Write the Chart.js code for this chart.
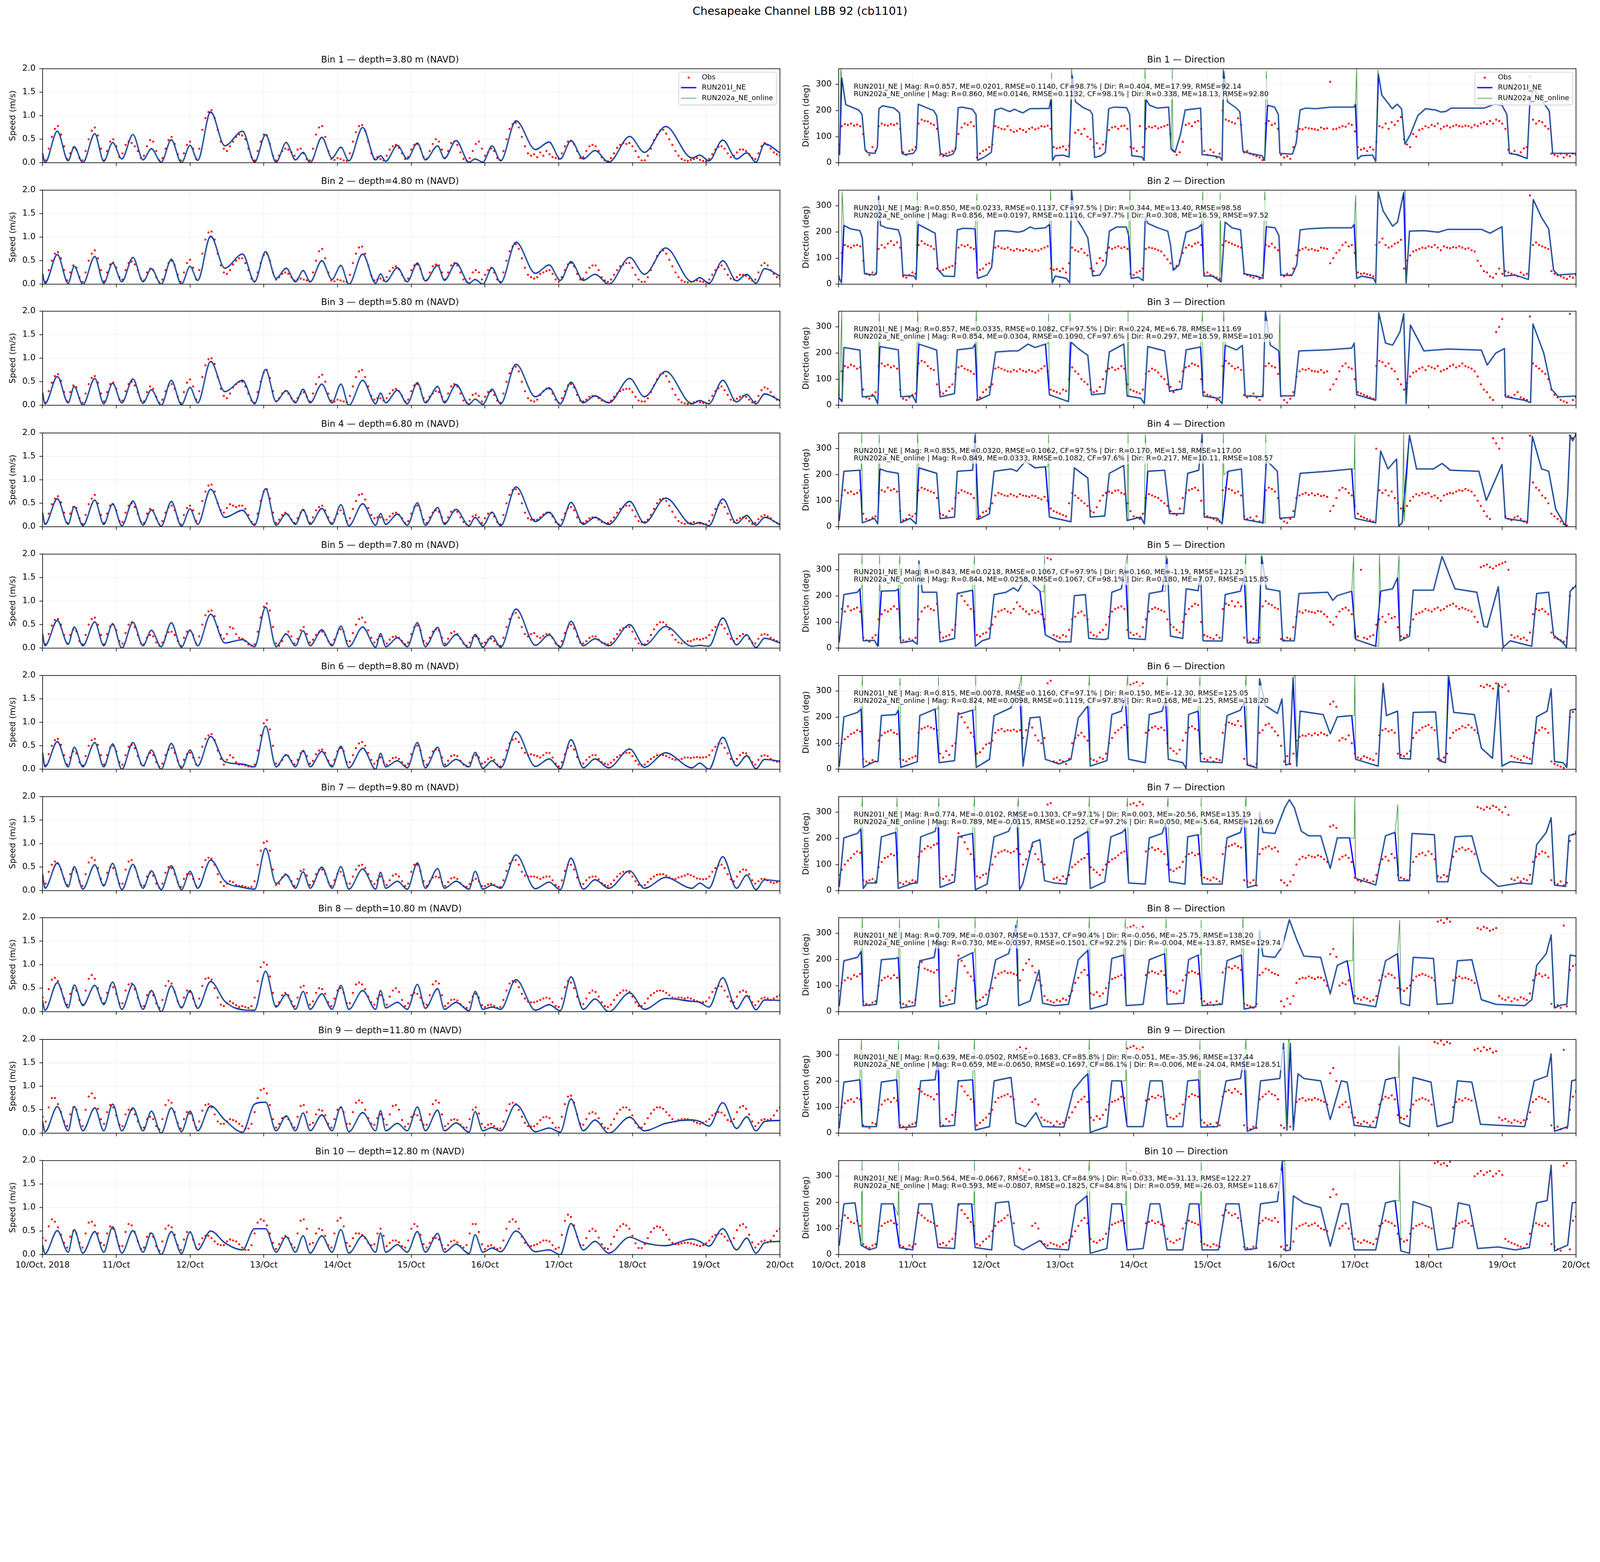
<!DOCTYPE html>
<html>
<head>
<meta charset="utf-8">
<script src="https://cdn.jsdelivr.net/npm/chart.js@4.4.1/dist/chart.umd.min.js"></script>
<style>
  html, body { margin: 0; padding: 0; background: #fff; overflow: hidden; }
  #fig { position: relative; width: 5000px; height: 4000px; background: #fff; overflow: hidden; font-family: "DejaVu Sans", sans-serif; }
  #sup { position: absolute; left: 0; top: 13px; width: 5000px; text-align: center; font-size: 35px; line-height: 42px; color: #000; white-space: nowrap; }
  canvas { position: absolute; }
</style>
</head>
<body>
<div id="fig"><div id="sup">Chesapeake Channel LBB 92 (cb1101)</div></div>
<script>
// ---- axes / labels ----
const DATE_LABELS = ['10/Oct, 2018', '11/Oct', '12/Oct', '13/Oct', '14/Oct', '15/Oct', '16/Oct', '17/Oct', '18/Oct', '19/Oct', '20/Oct'];
const DAY_TICKS = [0, 24, 48, 72, 96, 120, 144, 168, 192, 216, 240];   // hours since 10/Oct 00:00
const SPEED_TICKS = [0, 0.5, 1.0, 1.5, 2.0];
const DIR_TICKS = [0, 100, 200, 300];
const DEPTHS = [3.8, 4.8, 5.8, 6.8, 7.8, 8.8, 9.8, 10.8, 11.8, 12.8];
const LEGEND_LABELS = ['Obs', 'RUN201I_NE', 'RUN202a_NE_online'];

const STATS_RUN201 = [
  'RUN201I_NE | Mag: R=0.857, ME=0.0201, RMSE=0.1140, CF=98.7% | Dir: R=0.404, ME=17.99, RMSE=92.14',
  'RUN201I_NE | Mag: R=0.850, ME=0.0233, RMSE=0.1137, CF=97.5% | Dir: R=0.344, ME=13.40, RMSE=98.58',
  'RUN201I_NE | Mag: R=0.857, ME=0.0335, RMSE=0.1082, CF=97.5% | Dir: R=0.224, ME=6.78, RMSE=111.69',
  'RUN201I_NE | Mag: R=0.855, ME=0.0320, RMSE=0.1062, CF=97.5% | Dir: R=0.170, ME=1.58, RMSE=117.00',
  'RUN201I_NE | Mag: R=0.843, ME=0.0218, RMSE=0.1067, CF=97.9% | Dir: R=0.160, ME=-1.19, RMSE=121.25',
  'RUN201I_NE | Mag: R=0.815, ME=0.0078, RMSE=0.1160, CF=97.1% | Dir: R=0.150, ME=-12.30, RMSE=125.05',
  'RUN201I_NE | Mag: R=0.774, ME=-0.0102, RMSE=0.1303, CF=97.1% | Dir: R=0.003, ME=-20.56, RMSE=135.19',
  'RUN201I_NE | Mag: R=0.709, ME=-0.0307, RMSE=0.1537, CF=90.4% | Dir: R=-0.056, ME=-25.75, RMSE=138.20',
  'RUN201I_NE | Mag: R=0.639, ME=-0.0502, RMSE=0.1683, CF=85.8% | Dir: R=-0.051, ME=-35.96, RMSE=137.44',
  'RUN201I_NE | Mag: R=0.564, ME=-0.0667, RMSE=0.1813, CF=84.9% | Dir: R=0.033, ME=-31.13, RMSE=122.27'
];
const STATS_RUN202 = [
  'RUN202a_NE_online | Mag: R=0.860, ME=0.0146, RMSE=0.1132, CF=98.1% | Dir: R=0.338, ME=18.13, RMSE=92.80',
  'RUN202a_NE_online | Mag: R=0.856, ME=0.0197, RMSE=0.1116, CF=97.7% | Dir: R=0.308, ME=16.59, RMSE=97.52',
  'RUN202a_NE_online | Mag: R=0.854, ME=0.0304, RMSE=0.1090, CF=97.6% | Dir: R=0.297, ME=18.59, RMSE=101.90',
  'RUN202a_NE_online | Mag: R=0.849, ME=0.0333, RMSE=0.1082, CF=97.6% | Dir: R=0.217, ME=10.11, RMSE=108.57',
  'RUN202a_NE_online | Mag: R=0.844, ME=0.0258, RMSE=0.1067, CF=98.1% | Dir: R=0.180, ME=7.07, RMSE=115.85',
  'RUN202a_NE_online | Mag: R=0.824, ME=0.0098, RMSE=0.1119, CF=97.8% | Dir: R=0.168, ME=1.25, RMSE=118.20',
  'RUN202a_NE_online | Mag: R=0.789, ME=-0.0115, RMSE=0.1252, CF=97.2% | Dir: R=0.050, ME=-5.64, RMSE=126.69',
  'RUN202a_NE_online | Mag: R=0.730, ME=-0.0397, RMSE=0.1501, CF=92.2% | Dir: R=-0.004, ME=-13.87, RMSE=129.74',
  'RUN202a_NE_online | Mag: R=0.659, ME=-0.0650, RMSE=0.1697, CF=86.1% | Dir: R=-0.006, ME=-24.04, RMSE=128.51',
  'RUN202a_NE_online | Mag: R=0.593, ME=-0.0807, RMSE=0.1825, CF=84.8% | Dir: R=0.059, ME=-26.03, RMSE=118.67'
];

// ---- model speed: values (m/s) at the slack / peak times of the tide (hours) ----
const SPEED_T = [0,0.8,4.8,8.3,10.3,13.1,17.0,19.9,22.8,25.8,29.4,32.7,35.4,38.6,41.9,45.2,48.0,50.5,54.7,59.3,
  65.1,69.0,72.6,76.0,79.3,82.3,84.8,87.1,90.9,94.2,97.1,99.7,104.2,108.4,110.0,111.7,115.5,118.7,122.0,124.6,
  128.6,130.8,134.6,138.8,140.8,143.3,146.3,149.1,154.1,160.4,164.9,168.5,172.0,176.0,179.8,184.3,191.1,195.9,202.8,211.4,
  213.9,216.9,221.4,225.9,229.2,232.2,235.0,240];

const SPD201_1 = [0.20,0.00,0.67,0.04,0.34,0.00,0.62,0.03,0.43,0.08,0.60,0.06,0.30,0.01,0.49,0.00,0.37,0.05,1.08,0.36,0.67,0.01,0.60,0.01,0.43,0.06,0.22,0.00,0.54,0.10,0.33,0.04,0.75,0.06,0.15,0.03,0.37,0.08,0.42,0.06,0.36,0.09,0.47,0.01,0.08,0.01,0.36,0.04,0.89,0.28,0.44,0.08,0.47,0.08,0.26,0.01,0.56,0.22,0.77,0.10,0.16,0.04,0.48,0.08,0.21,0.01,0.40,0.21];
const SPD201_2 = [0.22,0.02,0.63,0.02,0.38,0.00,0.59,0.02,0.45,0.05,0.57,0.05,0.33,0.00,0.53,0.00,0.38,0.08,1.02,0.34,0.64,0.05,0.69,0.12,0.34,0.05,0.29,0.05,0.50,0.10,0.40,0.00,0.64,0.02,0.22,0.05,0.35,0.05,0.45,0.07,0.40,0.08,0.45,0.02,0.10,0.00,0.35,0.03,0.89,0.23,0.41,0.08,0.48,0.08,0.21,0.00,0.57,0.21,0.77,0.05,0.14,0.02,0.50,0.07,0.21,0.02,0.33,0.17];
const SPD201_3 = [0.27,0.03,0.61,0.05,0.40,0.00,0.57,0.03,0.47,0.05,0.56,0.04,0.33,0.00,0.53,0.01,0.38,0.05,0.93,0.29,0.53,0.03,0.76,0.08,0.31,0.05,0.34,0.05,0.45,0.05,0.45,0.00,0.53,0.03,0.26,0.05,0.32,0.03,0.48,0.05,0.40,0.05,0.44,0.02,0.13,0.02,0.34,0.03,0.87,0.18,0.37,0.03,0.49,0.05,0.20,0.05,0.57,0.18,0.72,0.03,0.10,0.03,0.53,0.07,0.23,0.03,0.24,0.10];
const SPD201_4 = [0.30,0.05,0.60,0.05,0.43,0.02,0.57,0.05,0.49,0.02,0.55,0.03,0.36,0.01,0.54,0.01,0.38,0.05,0.80,0.20,0.35,0.03,0.81,0.03,0.28,0.05,0.37,0.05,0.39,0.05,0.47,0.02,0.49,0.03,0.28,0.05,0.27,0.03,0.51,0.03,0.41,0.05,0.37,0.02,0.20,0.02,0.31,0.02,0.85,0.11,0.31,0.02,0.52,0.05,0.20,0.05,0.54,0.08,0.61,0.05,0.09,0.02,0.59,0.07,0.24,0.03,0.20,0.04];
const SPD201_5 = [0.30,0.05,0.59,0.08,0.45,0.05,0.56,0.05,0.52,0.00,0.55,0.05,0.38,0.03,0.54,0.02,0.38,0.05,0.72,0.11,0.18,0.03,0.87,0.03,0.30,0.05,0.37,0.05,0.39,0.05,0.47,0.03,0.45,0.02,0.31,0.03,0.22,0.03,0.54,0.03,0.44,0.05,0.29,0.00,0.29,0.02,0.26,0.02,0.83,0.06,0.28,0.02,0.57,0.05,0.20,0.05,0.50,0.06,0.46,0.04,0.06,0.04,0.64,0.07,0.28,0.01,0.21,0.11];
const SPD201_6 = [0.35,0.05,0.59,0.05,0.47,0.05,0.57,0.05,0.54,0.00,0.57,0.07,0.41,0.00,0.55,0.02,0.41,0.07,0.70,0.16,0.11,0.05,0.92,0.05,0.31,0.05,0.40,0.05,0.38,0.05,0.49,0.03,0.45,0.00,0.34,0.05,0.18,0.03,0.57,0.03,0.47,0.05,0.21,0.05,0.36,0.02,0.18,0.03,0.80,0.06,0.22,0.01,0.63,0.03,0.22,0.03,0.43,0.04,0.35,0.03,0.13,0.00,0.68,0.07,0.29,0.01,0.21,0.17];
const SPD201_7 = [0.35,0.05,0.59,0.08,0.51,0.03,0.55,0.10,0.58,0.02,0.56,0.05,0.42,0.02,0.53,0.02,0.41,0.05,0.65,0.20,0.07,0.03,0.90,0.15,0.34,0.05,0.40,0.05,0.50,0.05,0.51,0.03,0.46,0.03,0.39,0.05,0.20,0.03,0.59,0.05,0.47,0.05,0.20,0.03,0.41,0.03,0.12,0.05,0.76,0.04,0.18,0.02,0.69,0.03,0.23,0.05,0.42,0.05,0.28,0.05,0.16,0.05,0.72,0.05,0.33,0.02,0.23,0.20];
const SPD201_8 = [0.23,0.03,0.62,0.08,0.57,0.13,0.56,0.15,0.63,0.05,0.58,0.05,0.45,0.00,0.55,0.08,0.45,0.07,0.64,0.22,0.04,0.03,0.86,0.10,0.37,0.05,0.43,0.05,0.38,0.05,0.56,0.05,0.45,0.05,0.45,0.08,0.20,0.05,0.58,0.07,0.49,0.05,0.20,0.02,0.43,0.05,0.10,0.05,0.68,0.03,0.15,0.02,0.74,0.05,0.27,0.00,0.40,0.05,0.28,0.22,0.20,0.10,0.72,0.06,0.34,0.04,0.25,0.24];
const SPD201_9 = [0.25,0.03,0.57,0.05,0.57,0.05,0.54,0.05,0.62,0.05,0.54,0.05,0.47,0.00,0.54,0.03,0.47,0.05,0.58,0.28,0.02,0.62,0.66,0.05,0.37,0.05,0.43,0.05,0.39,0.05,0.56,0.03,0.44,0.05,0.48,0.05,0.21,0.05,0.56,0.05,0.49,0.05,0.22,0.02,0.46,0.05,0.12,0.05,0.61,0.03,0.11,0.02,0.73,0.05,0.28,0.00,0.34,0.05,0.21,0.28,0.25,0.15,0.65,0.10,0.35,0.05,0.25,0.27];
const SPD201_10 = [0.20,0.02,0.51,0.05,0.53,0.03,0.49,0.05,0.59,0.03,0.51,0.05,0.46,0.00,0.49,0.02,0.48,0.10,0.50,0.25,0.10,0.55,0.55,0.05,0.38,0.05,0.40,0.03,0.40,0.05,0.53,0.03,0.40,0.05,0.46,0.05,0.21,0.05,0.49,0.05,0.45,0.05,0.22,0.02,0.42,0.05,0.14,0.06,0.50,0.06,0.10,0.00,0.66,0.10,0.28,0.03,0.37,0.25,0.19,0.33,0.28,0.18,0.55,0.10,0.35,0.03,0.25,0.28];

const SPD202_1 = [0.20,0.00,0.66,0.03,0.35,0.00,0.63,0.02,0.44,0.07,0.60,0.05,0.31,0.00,0.50,0.00,0.38,0.04,1.06,0.35,0.66,0.00,0.61,0.00,0.44,0.05,0.23,0.00,0.55,0.09,0.34,0.03,0.74,0.05,0.14,0.02,0.38,0.07,0.43,0.05,0.37,0.08,0.46,0.00,0.09,0.00,0.37,0.03,0.88,0.27,0.45,0.07,0.48,0.07,0.27,0.00,0.57,0.21,0.76,0.09,0.15,0.03,0.47,0.07,0.20,0.00,0.39,0.20];
const SPD202_2 = [0.22,0.00,0.62,0.01,0.39,0.00,0.60,0.01,0.46,0.04,0.58,0.04,0.34,0.00,0.54,0.00,0.39,0.07,1.00,0.33,0.63,0.04,0.68,0.11,0.35,0.04,0.30,0.04,0.51,0.09,0.41,0.00,0.63,0.01,0.23,0.04,0.36,0.04,0.46,0.06,0.41,0.07,0.46,0.01,0.11,0.00,0.36,0.02,0.88,0.22,0.42,0.07,0.49,0.07,0.22,0.00,0.58,0.20,0.76,0.04,0.15,0.01,0.51,0.06,0.22,0.01,0.34,0.16];
const SPD202_3 = [0.27,0.02,0.60,0.04,0.41,0.00,0.58,0.02,0.48,0.04,0.57,0.03,0.34,0.00,0.54,0.00,0.39,0.04,0.92,0.28,0.54,0.02,0.75,0.07,0.32,0.04,0.35,0.04,0.46,0.04,0.46,0.00,0.54,0.02,0.27,0.04,0.33,0.02,0.49,0.04,0.41,0.04,0.45,0.01,0.14,0.01,0.35,0.02,0.86,0.17,0.38,0.02,0.50,0.04,0.21,0.04,0.58,0.17,0.71,0.02,0.11,0.02,0.54,0.06,0.24,0.02,0.25,0.09];
const SPD202_4 = [0.30,0.04,0.61,0.04,0.44,0.01,0.58,0.04,0.50,0.01,0.56,0.02,0.37,0.00,0.55,0.00,0.39,0.04,0.79,0.19,0.36,0.02,0.80,0.02,0.29,0.04,0.38,0.04,0.40,0.04,0.48,0.01,0.50,0.02,0.29,0.04,0.28,0.02,0.52,0.02,0.42,0.04,0.38,0.01,0.21,0.01,0.32,0.01,0.84,0.10,0.32,0.01,0.53,0.04,0.21,0.04,0.55,0.07,0.60,0.04,0.10,0.01,0.58,0.06,0.25,0.02,0.21,0.03];
const SPD202_5 = [0.30,0.04,0.60,0.07,0.46,0.04,0.57,0.04,0.53,0.00,0.56,0.04,0.39,0.02,0.55,0.01,0.39,0.04,0.71,0.10,0.19,0.02,0.86,0.02,0.31,0.04,0.38,0.04,0.40,0.04,0.48,0.02,0.46,0.01,0.32,0.02,0.23,0.02,0.55,0.02,0.45,0.04,0.30,0.00,0.30,0.01,0.27,0.01,0.82,0.05,0.29,0.01,0.58,0.04,0.21,0.04,0.51,0.05,0.47,0.03,0.07,0.03,0.63,0.06,0.29,0.00,0.22,0.10];
const SPD202_6 = [0.35,0.04,0.60,0.04,0.48,0.04,0.58,0.04,0.55,0.00,0.58,0.06,0.42,0.00,0.56,0.01,0.42,0.06,0.69,0.15,0.12,0.04,0.91,0.04,0.32,0.04,0.41,0.04,0.39,0.04,0.50,0.02,0.46,0.00,0.35,0.04,0.19,0.02,0.58,0.02,0.48,0.04,0.22,0.04,0.37,0.01,0.19,0.02,0.79,0.05,0.23,0.00,0.62,0.02,0.23,0.02,0.44,0.03,0.36,0.02,0.14,0.00,0.67,0.06,0.30,0.00,0.22,0.16];
const SPD202_7 = [0.35,0.04,0.60,0.07,0.52,0.02,0.56,0.09,0.59,0.01,0.57,0.04,0.43,0.01,0.54,0.01,0.42,0.04,0.64,0.19,0.08,0.02,0.89,0.14,0.35,0.04,0.41,0.04,0.51,0.04,0.52,0.02,0.47,0.02,0.40,0.04,0.21,0.02,0.60,0.04,0.48,0.04,0.21,0.02,0.42,0.02,0.13,0.04,0.75,0.03,0.19,0.01,0.68,0.02,0.24,0.04,0.43,0.04,0.29,0.04,0.17,0.04,0.71,0.04,0.34,0.01,0.24,0.19];
const SPD202_8 = [0.23,0.02,0.63,0.07,0.58,0.12,0.57,0.14,0.64,0.04,0.59,0.04,0.46,0.00,0.56,0.07,0.46,0.06,0.63,0.21,0.05,0.02,0.85,0.09,0.38,0.04,0.44,0.04,0.39,0.04,0.57,0.04,0.46,0.04,0.46,0.07,0.21,0.04,0.59,0.06,0.50,0.04,0.21,0.01,0.44,0.04,0.11,0.04,0.67,0.02,0.16,0.01,0.73,0.04,0.28,0.00,0.41,0.04,0.29,0.21,0.21,0.09,0.71,0.05,0.35,0.03,0.26,0.23];
const SPD202_9 = [0.25,0.02,0.58,0.04,0.58,0.04,0.55,0.04,0.63,0.04,0.55,0.04,0.48,0.00,0.55,0.02,0.48,0.04,0.57,0.27,0.02,0.61,0.65,0.04,0.38,0.04,0.44,0.04,0.40,0.04,0.57,0.02,0.45,0.04,0.49,0.04,0.22,0.04,0.57,0.04,0.50,0.04,0.23,0.01,0.47,0.04,0.13,0.04,0.60,0.02,0.12,0.01,0.72,0.04,0.29,0.00,0.35,0.04,0.22,0.27,0.26,0.14,0.64,0.09,0.36,0.04,0.26,0.26];
const SPD202_10 = [0.20,0.01,0.52,0.04,0.54,0.02,0.50,0.04,0.60,0.02,0.52,0.04,0.47,0.00,0.50,0.01,0.49,0.09,0.49,0.24,0.09,0.54,0.54,0.04,0.39,0.04,0.41,0.02,0.41,0.04,0.54,0.02,0.41,0.04,0.47,0.04,0.22,0.04,0.50,0.04,0.46,0.04,0.23,0.01,0.43,0.04,0.15,0.05,0.49,0.05,0.11,0.00,0.65,0.09,0.29,0.02,0.38,0.24,0.20,0.32,0.29,0.17,0.54,0.09,0.36,0.02,0.26,0.27];

// ---- model direction: [hour, deg, hour, deg, ...] for RUN201I_NE ----
const DIR201_1 = [0,40,0.3,31,1.0,325,2.3,222,6.5,202,7.6,185,8.6,49,9.5,38,11.8,36,12.6,60,13.1,207,14.3,218,18.1,209,19.8,191,20.6,36,21.4,31,24.3,36,25.3,53,25.9,224,28.1,213,30.9,200,31.9,180,33.1,36,35.2,25,37.2,33,38.1,53,38.9,211,40.2,213,43.5,205,44.7,185,45.2,9,47.2,20,49.7,40,50.9,202,53.0,209,54.7,200,55.8,196,57.2,205,58.8,196,60.0,191,62.2,207,68.5,208,69.1,246,69.6,9,70.5,27,73.0,29,75.0,22,76.0,334,77.1,233,79.6,211,81.8,200,82.6,185,83.3,20,85.4,27,86.8,40,87.9,207,89.6,213,93.7,211,94.7,185,95.4,27,98.7,22,99.4,9,100.0,242,101.2,220,103.7,209,107.4,213,108.2,53,109.5,40,111.2,106,112.8,202,117.8,209,118.3,31,120.3,29,124.0,22,124.8,9,125.3,350,126.6,233,129.5,209,130.6,194,131.6,44,133.6,36,137.8,27,138.6,9,139.6,220,141.9,213,143.1,185,143.6,36,147.7,33,148.9,75,150.2,202,151.9,209,155.2,207,160.2,213,167.7,213,168.2,224,168.9,14,170.2,27,173.8,29,174.8,5,175.7,338,176.8,259,180.2,207,181.8,224,183.2,207,184.3,71,186.0,106,188.5,180,191.0,207,194.3,202,196.0,194,197.6,196,199.3,209,210.1,209,213.4,224,215.9,220,217.5,185,218.3,36,220.8,31,224.1,16,225.0,237,226.2,281,229.2,233,231.3,198,232.4,36,240,36];
const DIR201_2 = [0,30,0.2,22,0.9,5,1.7,225,3.8,212,6.9,205,7.7,177,8.4,40,11.6,35,12.3,40,13.0,337,13.6,225,15.5,216,19.4,208,20.2,177,20.9,35,24.5,31,25.2,18,25.9,229,28.0,216,31.4,195,32.3,57,34.2,31,37.7,29,38.6,208,40.5,214,44.4,212,45.2,22,48.3,35,49.8,65,50.9,203,54.5,205,58.4,199,60.0,203,62.3,219,63.9,212,67.3,216,68.6,229,69.5,5,70.5,31,74.1,22,75.2,5,75.8,358,76.7,264,79.5,212,81.1,177,82.7,31,85.0,35,87.0,74,88.1,203,90.5,219,93.6,219,94.4,186,95.2,22,97.5,27,99.1,14,99.8,259,100.6,233,103.8,216,107.1,203,108.0,152,108.9,53,110.8,74,113.1,199,117.0,216,118.1,229,118.9,31,121.7,31,124.5,9,125.8,238,128.0,216,130.8,208,132.0,40,135.8,31,138.1,22,139.2,220,142.0,216,143.3,186,143.9,35,147.5,33,149.1,74,150.2,208,153.0,212,159.2,216,167.0,216,167.8,229,168.6,22,170.2,31,174.1,22,174.8,5,175.6,354,177.2,281,180.3,222,181.9,238,183.9,350,184.7,5,185.8,203,190.5,205,195.2,199,198.3,210,209.2,210,212.0,195,215.9,220,216.7,31,220.2,35,224.5,18,226.1,324,228.8,255,231.1,212,232.7,53,234.2,35,240,40];
const DIR201_3 = [0,30,0.2,27,1.1,14,1.7,221,6.9,211,7.7,32,11.6,36,12.7,6,13.4,225,19.4,212,20.2,32,24.1,36,25.2,10,26.1,234,29.5,221,31.9,211,33.0,32,37.7,45,38.6,212,43.6,219,44.4,234,45.2,19,49.1,40,51.1,204,56.1,208,58.4,208,61.6,234,63.9,221,67.3,234,68.6,40,70.2,33,74.8,14,75.6,242,78.0,217,81.1,191,82.3,40,86.6,45,88.1,204,92.8,234,93.9,36,98.3,27,99.5,6,100.6,225,106.1,208,107.7,53,111.6,62,113.1,212,117.8,223,118.6,36,123.3,27,124.8,6,125.8,230,129.5,212,131.4,229,132.3,36,138.1,33,138.9,359,140.5,230,143.3,208,143.9,36,148.3,36,149.8,208,159.2,212,167.0,219,167.8,238,168.6,40,174.8,19,175.8,354,178.0,238,180.3,230,182.7,281,183.9,350,184.7,6,186.1,307,190.5,208,198.3,215,209.2,211,211.1,154,213.9,200,216.7,217,217.0,32,223.3,19,225.2,10,226.0,311,229.5,200,232.0,62,234.2,32,240,35];
const DIR201_4 = [0,30,0.2,24,1.7,213,6.9,217,7.7,15,11.6,32,12.7,11,13.4,222,15.5,213,19.4,205,20.2,15,23.3,32,25.2,11,26.1,226,31.9,205,33.0,31,37.7,37,38.6,213,43.6,217,44.4,351,45.5,28,49.1,50,50.6,213,56.1,222,58.0,213,60.8,252,63.9,226,67.3,230,68.6,37,75.6,19,76.7,226,81.1,187,81.9,37,86.6,41,88.1,205,92.8,235,93.9,24,98.3,37,99.5,11,100.6,213,106.1,217,107.7,50,112.3,50,113.6,205,117.2,217,118.3,355,119.0,37,123.3,32,124.8,11,126.7,213,131.1,222,132.0,28,138.1,15,139.2,256,142.8,213,143.6,32,148.3,37,150.2,205,159.2,213,167.0,222,168.1,32,174.8,15,176.4,291,178.8,222,181.6,260,182.3,2,183.4,15,185.8,351,188.1,222,193.6,222,196.4,243,199.1,217,208.4,213,210.8,101,215.9,239,217.0,32,224.2,19,225.8,347,228.8,222,231.1,213,233.4,67,236.6,2,237.3,127,238.1,351,238.9,330,240,355];
const DIR201_5 = [0,30,0.2,24,1.7,205,6.1,214,6.9,227,8.0,28,11.6,30,12.7,7,13.9,218,18.6,220,19.4,227,20.2,20,24.1,28,25.6,15,26.1,334,27.2,214,31.9,214,33.0,24,37.7,37,38.6,209,43.6,222,44.5,7,46.7,28,49.1,37,50.6,205,54.5,214,56.9,231,58.4,218,60.8,270,65.5,218,67.3,50,71.7,24,75.6,24,76.7,201,80.3,205,81.4,37,86.6,33,87.7,37,88.9,214,92.0,227,93.3,313,94.4,37,99.8,33,101.1,209,105.3,218,106.9,343,108.0,46,112.0,37,113.1,227,117.0,220,117.8,291,118.6,28,124.8,27,125.8,205,130.8,218,132.0,278,133.0,20,136.6,20,137.7,351,139.2,227,143.6,218,144.5,28,148.3,28,149.8,209,159.2,214,160.8,183,162.3,201,167.0,218,168.3,33,174.8,7,176.4,218,180.3,227,181.9,270,182.7,28,185.8,46,187.0,222,193.6,222,196.4,351,200.6,227,207.7,214,210.0,84,211.1,80,214.7,235,216.3,3,218.6,28,225.6,7,227.2,209,231.1,214,232.7,50,235.8,20,236.9,3,238.1,218,240,239];
const DIR201_6 = [0,25,0.2,12,1.7,201,6.1,218,7.3,231,8.0,7,11.6,29,12.8,29,13.9,206,18.6,210,19.4,227,20.2,7,25.6,29,26.4,206,31.4,231,32.7,25,37.7,33,38.9,210,43.6,227,44.8,7,49.1,38,50.6,206,56.1,236,58.9,322,60.0,12,62.3,197,65.5,201,67.3,38,71.7,20,75.6,38,78.0,197,81.1,244,81.9,12,87.3,33,88.9,210,92.0,223,93.3,278,94.4,38,99.8,25,101.1,210,105.3,223,106.4,270,107.3,38,112.0,25,113.1,3,113.9,210,117.0,223,117.8,29,124.8,25,126.4,206,130.8,227,132.0,261,133.0,16,136.1,5,137.0,347,138.9,244,142.8,214,144.3,270,145.5,16,146.7,20,147.9,351,149.1,12,150.2,223,157.7,210,160.0,136,162.3,201,167.0,206,168.3,38,175.6,12,177.2,330,178.3,206,181.9,223,182.7,42,186.1,39,187.0,218,194.3,220,195.5,33,197.5,25,198.6,355,200.2,218,206.9,210,209.2,81,212.8,42,214.7,330,215.9,12,218.6,29,225.6,20,227.2,201,230.6,223,231.9,309,233.0,29,235.8,25,237.0,7,238.1,227,240,231];
const DIR201_7 = [0,25,0.2,16,1.7,202,6.1,219,7.2,236,8.0,8,9.2,29,12.3,29,13.9,206,18.6,223,19.4,8,20.2,12,24.1,28,25.6,29,26.7,206,31.4,227,32.3,270,33.0,12,37.7,34,38.9,206,43.6,219,44.5,3,48.3,25,50.6,206,55.3,227,58.0,301,58.9,3,60.0,29,63.1,184,65.5,195,67.0,38,70.2,29,74.1,25,76.7,197,81.1,227,81.9,8,86.6,34,88.6,206,92.3,223,93.3,236,94.4,29,99.8,25,101.1,202,105.3,219,106.4,258,107.7,34,112.7,25,113.6,206,117.0,214,118.3,25,124.8,25,126.4,202,130.8,223,132.0,283,133.0,12,135.8,21,137.0,301,138.1,223,142.0,219,145.2,318,146.7,348,148.3,318,150.6,227,153.0,210,156.9,210,160.0,85,162.3,202,166.3,202,168.3,47,174.8,21,178.0,210,181.1,223,182.3,38,185.8,38,186.6,219,193.9,214,194.8,34,198.3,34,200.6,206,206.1,210,209.2,72,214.7,16,221.7,29,225.6,25,227.2,176,230.3,223,231.9,279,233.0,21,236.6,16,237.7,210,240,219];
const DIR201_8 = [0,30,0.2,23,1.7,195,6.1,208,7.3,231,8.0,23,12.3,28,13.9,199,18.6,204,19.4,208,20.2,14,24.8,23,26.4,195,31.1,208,32.3,294,33.0,19,37.7,32,38.9,199,43.6,226,44.8,10,48.3,28,51.1,199,55.3,222,57.7,330,58.6,23,62.3,41,65.2,159,66.4,32,70.2,23,74.8,28,78.0,199,81.1,235,81.9,10,87.3,28,88.9,204,92.8,217,93.6,23,99.1,28,101.1,199,106.1,222,106.9,28,112.3,32,113.9,199,117.0,217,118.3,23,124.8,28,126.4,195,131.1,217,132.0,10,135.8,19,137.0,312,138.1,213,142.0,208,144.4,249,146.7,352,149.1,276,151.4,213,156.9,208,160.0,68,162.3,177,165.5,195,167.8,32,174.8,19,178.0,195,181.9,222,183.0,32,185.8,23,187.0,208,193.6,204,194.8,28,199.8,32,201.4,195,206.1,199,209.2,46,213.9,28,223.3,23,225.6,46,227.2,177,230.3,222,231.9,294,233.0,14,235.0,25,237.0,28,238.1,217,240,213];
const DIR201_9 = [0,25,0.2,21,1.7,196,6.9,205,7.7,25,12.3,25,13.9,196,18.9,205,19.8,21,25.2,25,26.7,201,31.4,205,32.3,286,33.0,25,37.7,30,38.9,201,43.6,205,44.5,12,49.1,25,50.6,201,56.1,214,57.7,39,60.8,25,64.2,79,66.3,25,73.3,23,76.4,165,79.5,210,81.1,228,81.9,3,87.3,25,88.9,201,92.0,201,93.9,25,99.1,25,101.4,201,105.3,201,106.9,25,112.0,25,113.6,201,117.2,205,117.9,23,123.3,25,126.1,201,130.8,210,132.0,291,133.0,7,135.8,21,137.3,201,143.6,210,144.8,345,145.9,12,147.0,345,148.0,12,149.5,228,151.4,210,156.9,201,160.0,52,163.6,201,165.5,196,167.8,30,174.8,21,178.0,205,181.1,214,182.7,39,185.8,25,187.0,214,192.8,196,194.8,25,199.8,43,201.4,201,206.1,196,208.9,34,215.5,30,223.3,25,226.4,201,230.6,219,231.9,304,233.0,7,237.3,25,238.6,201,240,205];
const DIR201_10 = [0,40,0.2,36,1.7,194,5.3,198,7.3,36,10.0,18,12.3,27,13.9,194,17.8,194,19.8,27,24.1,18,26.1,194,30.3,194,32.3,27,37.7,23,38.9,194,43.3,194,44.4,27,49.8,18,51.1,198,55.3,203,57.3,36,60.0,18,65.5,54,67.8,23,74.8,18,77.2,189,80.8,225,81.9,5,87.3,23,88.9,194,92.0,194,93.9,18,99.1,23,101.4,194,104.5,194,106.9,18,112.0,18,114.2,194,117.2,194,118.3,18,123.6,18,126.1,194,130.3,194,132.3,18,135.8,23,137.3,194,142.8,203,144.4,356,145.5,14,147.0,18,148.0,225,151.4,198,156.9,180,160.0,32,163.6,194,165.8,194,167.8,18,174.8,18,178.0,198,181.1,207,183.0,14,185.8,5,187.0,203,192.8,180,194.8,18,199.8,27,201.7,198,205.3,189,208.0,23,214.7,29,220.2,18,224.8,27,227.2,198,230.6,207,231.9,342,233.0,14,237.3,36,238.8,198,240,200];

// RUN202a_NE_online follows RUN201I_NE in direction except for these flip spikes
// [hour, deg, ...]: spike tops plus the line level right at their foot
const SPIKE202_1 = [0.7,360,69.3,345,75.8,360,99.7,360,108.6,360,108.8,50,125.1,360,139.2,350,168.6,360,175.5,355];
const SPIKE202_2 = [1.1,355,25.6,355,45.0,345,69.0,360,94.8,360,118.5,355,124.0,12,124.2,350,138.7,355,168.3,340,184.4,360];
const SPIKE202_3 = [1.0,360,13.2,355,25.7,360,44.8,360,68.1,236,68.3,350,75.3,355,94.2,360,94.4,36,118.4,360,125.3,360,143.6,350];
const SPIKE202_4 = [7.3,217,7.5,360,13.2,355,25.7,360,44.6,360,44.8,40,68.1,232,68.3,355,94.2,360,94.4,25,99.8,355,125.2,360,125.4,200,138.8,15,139.0,355,167.8,222,168.0,355,183.9,360,184.1,20];
const SPIKE202_5 = [7.4,227,7.6,360,13.1,7,13.3,355,13.5,218,19.9,355,44.2,355,66.8,215,67.0,355,94.0,360,106.3,218,106.5,355,132.5,360,137.3,20,137.5,355,167.6,355,167.8,40,175.8,7,176.0,360,182.4,355];
const SPIKE202_6 = [7.7,360,20.0,350,32.3,231,32.5,355,44.4,227,44.6,360,59.5,360,81.6,360,94.1,360,107.0,355,117.6,355,132.6,360,148.6,360,167.8,206,168.0,360,198.3,360];
const SPIKE202_7 = [7.7,360,19.0,355,32.6,355,44.2,360,58.5,355,81.6,360,94.0,355,107.2,355,117.8,214,118.0,355,132.6,360,167.8,200,168.0,360,182.0,330];
const SPIKE202_8 = [7.7,360,19.8,355,32.6,355,44.2,226,44.4,360,58.2,355,81.6,360,93.3,355,106.6,355,117.8,217,118.0,350,131.6,360,167.3,195,167.5,360,182.6,350];
const SPIKE202_9 = [7.4,360,19.5,355,32.6,355,44.2,360,81.6,360,93.4,201,93.6,355,117.6,355,132.6,360,146.4,360,182.2,214,182.4,335];
const SPIKE202_10 = [7.6,360,7.8,34,19.3,150,19.5,355,44.0,190,44.2,360,81.6,360,93.4,190,93.6,355,117.8,190,118.0,355,145.2,360,182.4,205,182.6,360];

// ---- observations, hourly from 10/Oct 00:00 (speed in cm/s, direction in deg) ----
const OBS_STEP_H = 1;
const OBS_SPD_1 = [15,5,30,55,72,78,60,35,8,20,32,28,10,5,25,50,68,75,58,30,5,25,45,50,
35,12,20,38,45,42,35,25,10,15,35,48,45,25,5,10,30,48,55,40,18,5,20,38,
45,30,8,30,70,95,108,112,95,70,45,30,25,35,45,55,60,58,50,30,12,5,25,45,
60,58,40,15,5,15,25,30,28,22,15,28,30,20,8,5,30,60,75,78,55,25,8,6,
10,8,5,4,20,45,65,78,80,68,45,20,8,12,8,5,15,28,35,38,32,20,8,12,
28,38,40,30,12,8,25,40,50,45,28,10,25,42,45,38,22,8,4,10,25,40,45,30,
15,22,30,25,10,5,25,50,72,82,85,75,55,35,20,15,18,12,22,15,25,18,12,10,
8,20,35,45,47,40,25,10,12,25,35,38,35,25,12,5,3,10,20,32,38,42,40,42,
35,25,12,5,5,15,30,48,60,68,70,62,50,38,25,15,8,5,4,6,8,10,6,4,
3,8,18,28,34,35,30,20,12,15,22,28,28,25,18,10,8,20,35,42,38,30,22,18,15];
const OBS_SPD_2 = [18,5,30,50,65,68,55,30,8,25,40,35,15,5,25,50,65,72,55,30,6,25,42,46,
35,15,10,30,45,48,42,30,12,8,25,33,30,15,4,10,30,45,50,40,20,5,25,45,
52,35,10,30,65,95,110,112,95,65,40,25,22,30,42,50,55,55,45,30,12,5,25,45,
62,65,50,25,10,15,22,25,22,15,8,10,12,10,8,5,25,50,70,75,55,25,8,6,
10,8,6,5,20,45,65,78,80,65,40,18,8,10,12,8,15,28,35,38,32,20,8,12,
30,40,42,32,12,8,25,38,42,40,25,10,25,40,45,40,25,10,5,12,25,30,25,10,
20,30,35,25,10,5,25,50,70,80,85,75,55,35,20,15,12,15,22,25,28,30,22,10,
5,15,30,42,45,38,22,10,12,25,35,40,40,30,15,8,5,10,20,30,38,42,45,45,
35,20,10,5,5,15,30,45,60,68,72,65,52,38,25,15,8,5,4,5,6,8,6,5,
4,10,20,30,36,40,32,20,12,10,15,20,20,18,12,8,10,25,40,45,40,30,22,15,12];
const OBS_SPD_3 = [20,5,30,48,62,66,52,28,8,28,42,38,15,5,25,45,58,62,48,25,8,28,45,48,
35,12,10,30,45,50,42,28,10,8,28,40,35,18,5,12,30,42,45,35,18,5,28,48,
55,40,12,30,60,85,98,100,88,60,35,20,15,25,38,45,50,50,40,25,10,5,28,50,
70,75,58,30,8,15,25,30,25,15,8,15,25,28,18,8,25,45,60,65,50,25,10,8,
12,10,8,6,20,40,60,72,75,60,40,20,12,15,15,10,15,25,32,35,30,20,8,12,
30,42,45,35,15,8,18,25,30,28,18,8,25,40,45,40,25,10,5,12,22,25,20,8,
18,28,30,22,10,5,25,50,68,78,82,72,50,30,15,10,8,12,22,30,35,35,25,12,
5,15,30,42,45,38,22,10,8,12,18,20,20,15,10,8,6,10,18,25,30,33,35,35,
28,18,10,8,8,15,28,42,55,65,68,62,50,35,22,12,6,4,3,4,6,8,6,5,
4,10,20,30,36,40,32,22,12,10,14,18,20,18,12,6,8,20,32,38,35,28,18,12,10];
const OBS_SPD_4 = [22,6,28,48,60,65,52,30,8,28,42,40,18,6,25,48,60,68,50,25,8,28,45,48,
35,12,10,30,45,50,42,28,10,8,28,38,35,18,5,12,30,42,45,35,18,5,25,40,
45,35,12,28,55,75,88,90,75,50,35,30,40,48,45,42,45,45,38,25,10,5,28,55,
75,80,60,30,8,15,25,30,25,15,8,18,30,35,22,8,20,35,42,45,35,20,8,15,
28,35,28,12,18,38,55,68,70,58,40,25,18,20,20,15,15,22,28,30,26,18,8,12,
28,42,45,35,15,8,20,30,35,32,20,8,20,32,35,32,20,10,5,12,22,25,20,8,
18,28,30,22,10,5,25,50,68,78,80,70,50,30,18,15,15,15,20,26,30,30,22,10,
5,15,28,40,42,35,20,10,8,12,18,20,20,15,10,8,8,12,20,30,38,42,45,45,
35,22,12,10,10,15,25,38,50,58,60,55,45,32,20,12,8,6,8,8,10,8,7,6,
5,12,25,38,46,50,42,28,15,10,14,18,20,18,12,6,8,16,22,25,22,18,12,8,6];
const OBS_SPD_5 = [25,8,30,48,60,62,50,28,10,28,40,36,15,8,28,50,62,65,50,28,8,30,46,50,
38,15,10,32,50,55,45,28,10,8,22,28,25,12,5,12,25,34,35,28,15,5,22,35,
38,28,10,25,50,70,78,80,68,45,28,20,30,45,42,30,22,20,15,8,5,8,35,65,
88,95,80,45,10,5,15,30,35,25,10,20,38,45,30,12,18,28,34,35,28,15,8,18,
32,40,35,15,15,32,50,62,65,55,38,22,12,18,25,15,10,18,24,25,22,15,8,12,
30,45,48,38,15,10,22,35,40,38,22,10,20,32,35,30,20,10,5,12,22,25,20,10,
12,18,20,15,8,5,22,45,62,72,75,65,45,30,25,30,32,25,22,26,30,30,22,10,
5,15,32,45,50,42,25,12,10,15,22,25,25,18,12,10,8,12,20,30,38,42,45,45,
35,20,10,8,8,15,28,40,50,55,55,50,40,28,18,12,10,12,15,15,18,20,18,20,
22,28,38,45,50,50,42,30,20,15,20,26,30,28,20,12,10,20,28,30,28,22,18,15,12];
const OBS_SPD_6 = [28,8,32,50,62,65,52,30,10,25,38,34,15,8,28,50,62,65,52,30,10,30,46,50,
38,15,10,30,48,52,45,28,12,8,25,35,30,15,5,12,30,42,45,35,18,6,20,32,
35,25,10,25,48,65,72,75,62,40,22,10,20,30,25,15,10,10,8,6,5,10,40,72,
98,105,85,50,12,10,20,30,28,18,10,20,34,38,28,12,18,32,40,42,35,18,8,20,
38,45,38,15,15,30,45,55,58,50,35,20,12,18,25,15,10,18,24,25,22,15,8,12,
32,46,50,40,18,10,25,38,42,40,25,10,18,28,30,28,18,10,6,14,26,30,25,12,
15,22,25,20,10,6,20,40,55,63,65,58,45,35,30,32,30,28,25,30,35,35,25,12,
6,15,32,46,50,42,26,14,12,20,26,30,30,22,15,12,10,14,20,26,30,34,35,35,
28,18,10,8,10,16,22,26,30,30,30,28,25,22,20,20,22,25,25,24,25,26,25,25,
26,30,40,48,54,55,46,34,22,16,22,30,35,34,25,15,10,20,28,30,28,22,18,16,15];
const OBS_SPD_7 = [30,15,40,55,62,58,45,25,12,35,45,40,20,10,35,60,70,65,48,25,12,38,50,48,
35,15,15,45,62,65,50,30,12,10,30,38,32,15,6,15,38,50,48,35,18,8,25,35,
35,25,10,25,50,65,70,68,55,35,18,10,15,20,18,12,10,10,8,6,8,20,55,85,
102,105,85,45,12,15,28,35,30,20,10,25,42,45,32,12,20,35,44,45,36,18,10,22,
36,40,32,15,15,30,45,53,55,48,35,20,14,22,30,20,12,22,32,35,30,20,10,15,
40,55,55,42,20,10,20,28,30,28,18,10,18,26,28,25,16,10,8,14,22,25,20,10,
10,14,15,12,8,8,22,42,58,65,65,55,40,32,30,30,30,28,25,28,30,30,22,12,
8,22,42,55,55,45,28,15,14,22,28,30,30,24,16,12,10,14,22,30,36,40,40,38,
30,20,12,10,12,18,25,30,34,35,35,32,28,25,25,28,30,32,35,33,30,26,25,24,
25,30,40,48,54,55,48,35,24,20,30,40,45,44,35,22,15,20,25,25,22,18,16,18,20];
const OBS_SPD_8 = [30,20,48,68,72,65,48,28,15,38,50,45,25,15,45,70,78,70,50,28,18,40,55,52,
38,18,18,45,58,60,48,30,12,12,35,42,35,18,8,25,55,65,60,42,22,10,30,45,
42,28,12,28,55,70,72,68,50,30,15,12,18,22,18,14,10,12,10,8,12,30,65,95,
105,100,75,40,12,20,35,40,35,22,12,30,52,55,40,15,22,40,50,48,38,20,12,28,
45,50,40,18,18,40,58,62,58,48,32,20,15,28,35,25,15,32,45,50,42,25,12,18,
35,40,38,30,18,15,35,58,65,60,35,12,18,25,26,24,16,10,8,20,32,38,30,14,
10,14,15,12,8,10,25,45,60,65,63,52,38,28,22,20,20,22,25,28,30,28,20,12,
10,28,52,65,62,50,32,18,16,28,40,45,42,32,20,12,10,15,25,35,40,45,45,42,
32,20,12,12,18,28,35,40,44,45,44,40,35,30,28,30,30,28,30,28,25,22,20,20,
22,30,42,50,55,54,45,32,22,20,32,42,45,42,32,20,14,22,28,30,28,25,28,32,35];
const OBS_SPD_9 = [35,25,55,75,75,62,45,25,15,40,55,50,28,15,50,78,85,75,52,30,20,45,60,55,
38,18,15,40,50,50,40,25,12,12,30,35,30,15,8,30,60,70,65,45,22,10,30,45,
42,28,12,25,48,60,62,55,40,25,20,20,25,30,28,25,20,15,10,10,20,45,75,92,
95,85,60,30,12,20,32,35,30,20,12,35,58,60,45,18,22,40,50,48,38,20,12,30,
50,55,45,20,20,45,65,70,65,50,32,20,18,32,40,30,18,40,58,60,50,28,14,20,
35,40,38,28,18,18,40,62,70,65,40,15,20,28,30,28,18,12,12,30,50,55,42,20,
12,18,20,15,10,10,25,48,62,65,62,50,35,22,15,14,15,20,28,34,35,32,22,12,
12,35,62,78,80,65,40,20,18,30,42,45,42,32,20,12,10,18,30,42,50,55,55,50,
38,22,12,12,20,32,42,50,55,55,52,45,38,30,25,28,30,30,30,28,25,22,20,22,
25,30,38,42,45,44,38,28,25,30,45,55,58,52,40,25,15,22,28,30,28,30,38,48,55];
const OBS_SPD_10 = [35,30,60,75,70,58,42,25,15,38,50,45,25,15,45,68,70,62,45,25,20,45,60,55,
38,18,18,48,65,62,48,28,12,15,38,45,38,18,8,28,55,62,58,42,20,10,32,48,
48,32,14,22,35,40,40,35,28,22,20,20,28,32,30,28,22,15,10,10,20,45,68,75,
72,62,45,25,12,22,35,40,35,22,15,45,72,75,55,22,25,45,55,52,40,20,15,45,
72,78,60,25,18,35,45,45,42,35,25,20,22,45,55,40,18,25,30,30,26,18,15,30,
55,65,60,42,22,15,25,35,35,32,20,12,20,28,30,26,18,15,20,45,65,65,48,22,
12,18,20,15,12,14,30,55,70,75,70,55,38,25,20,18,20,22,26,30,30,28,20,12,
15,42,72,85,80,62,38,20,20,35,50,55,50,36,22,14,12,22,38,52,60,65,62,55,
40,24,14,14,22,35,48,56,60,58,52,42,32,25,22,22,24,25,25,24,22,20,18,20,
24,30,38,42,45,44,38,30,28,35,52,62,65,58,42,26,15,22,28,30,26,30,40,50,55];

const OBS_DIR_1 = [70,140,148,145,150,142,146,140,110,45,30,60,45,140,150,145,142,148,145,150,130,40,30,45,
50,60,150,165,160,158,150,145,130,30,25,35,40,45,55,110,135,150,145,155,140,20,35,45,
50,60,70,140,135,130,128,140,125,118,122,130,125,118,130,135,128,132,140,138,142,130,60,55,
58,62,50,65,300,115,125,110,130,100,90,60,75,55,70,80,125,135,138,130,140,142,130,60,
55,45,140,60,130,138,135,140,132,136,140,145,110,45,30,40,80,145,150,140,155,160,130,45,
30,50,40,20,35,200,165,160,155,150,170,145,40,45,35,30,25,20,10,150,160,145,150,130,
30,20,25,15,60,120,130,128,135,132,130,128,125,135,130,132,310,128,130,135,140,138,150,145,
120,60,50,55,45,60,50,80,140,135,150,130,155,145,160,175,90,70,60,110,100,125,130,140,
135,145,140,150,130,138,142,135,140,145,140,138,142,140,135,145,140,150,155,148,160,150,165,160,
150,130,50,35,45,30,40,55,60,330,165,150,160,155,140,130,35,30,25,35,20,30,25,35,30];
const OBS_DIR_2 = [30,120,150,145,140,148,150,145,90,40,35,45,40,135,150,140,155,165,150,160,140,30,25,35,
45,40,150,165,155,150,145,135,60,50,55,60,65,70,80,140,150,145,150,140,135,45,55,60,
75,80,90,140,145,138,135,140,132,128,135,130,128,135,130,125,132,128,135,140,145,60,55,58,
50,60,45,80,140,130,125,135,120,110,60,50,80,100,90,120,140,135,140,145,138,142,135,40,
35,45,50,60,135,140,138,135,130,125,110,95,80,60,70,90,120,140,150,145,155,160,150,40,
45,35,30,25,20,150,165,160,155,150,145,140,40,35,30,25,30,20,35,150,145,155,140,130,
35,30,40,35,60,110,130,135,140,132,135,130,128,140,138,135,80,100,120,130,150,160,145,150,
120,45,40,42,38,35,30,150,160,175,150,140,145,155,160,170,60,90,110,125,130,135,140,138,
145,142,150,140,130,145,140,138,142,140,145,140,135,138,130,125,90,70,50,45,30,25,40,60,
40,50,45,40,35,30,45,35,40,340,150,160,150,145,140,135,50,40,35,30,25,20,30,25,35];
const OBS_DIR_3 = [40,130,150,145,155,150,140,145,60,30,25,40,50,150,160,150,155,145,150,140,60,25,20,30,
40,45,160,170,165,150,140,135,80,50,45,55,70,80,120,145,150,140,135,130,120,20,30,50,
60,70,80,140,145,140,135,130,128,135,130,138,132,128,135,130,125,132,140,150,130,60,55,50,
45,60,55,100,145,130,120,100,90,80,60,50,55,70,100,130,140,145,135,140,150,140,80,60,
55,50,45,60,120,130,140,135,125,110,100,80,70,50,60,90,130,145,150,160,155,150,100,50,
40,35,30,20,30,150,170,160,150,140,145,135,40,30,35,45,30,20,40,150,160,150,145,120,
35,20,10,25,50,110,130,138,135,140,132,130,128,135,125,130,60,80,100,130,150,160,145,140,
100,50,45,40,35,30,25,150,170,165,150,160,140,130,100,80,60,85,110,125,130,140,145,135,
150,145,140,150,130,135,140,150,155,145,150,160,150,145,140,130,110,80,60,50,30,20,280,300,
330,40,35,30,40,50,30,25,20,340,160,150,140,130,120,100,60,40,30,20,15,10,350,20,30];
const OBS_DIR_4 = [40,120,140,130,135,125,130,140,50,30,25,35,40,130,140,135,150,140,145,135,60,25,30,45,
40,50,140,150,145,140,135,130,110,50,45,40,60,70,110,130,140,135,130,125,110,30,40,55,
60,70,90,120,130,125,120,118,125,120,115,125,120,118,115,120,118,110,105,115,100,70,60,55,
50,45,40,90,130,120,110,100,90,80,60,55,75,100,120,130,135,130,138,140,130,125,90,60,
40,35,30,50,110,125,120,115,110,100,90,80,60,50,45,70,110,130,140,145,150,140,100,50,
40,35,30,25,20,140,150,145,140,130,135,120,40,30,35,25,40,20,15,140,150,145,135,110,
30,20,15,30,60,110,120,125,130,122,128,120,125,118,120,115,60,80,110,140,150,145,130,120,
80,50,40,35,30,25,20,300,140,130,140,120,135,110,90,70,60,80,100,115,125,120,130,125,
130,115,120,110,100,120,125,130,128,135,140,138,145,140,135,120,100,80,60,40,30,340,320,300,
340,40,30,25,35,40,30,20,15,350,170,150,140,120,110,90,50,40,30,20,10,5,350,340,355];
const OBS_DIR_5 = [40,150,140,160,145,150,155,140,40,30,25,40,50,110,130,145,140,150,160,150,40,30,25,35,
30,40,110,140,155,160,150,145,170,60,40,45,50,70,90,210,200,180,165,150,140,50,45,55,
60,75,90,120,140,145,150,140,135,150,175,160,150,140,130,145,135,140,130,110,345,340,50,45,
40,50,45,70,110,120,135,140,125,110,60,50,45,60,70,90,120,140,150,155,160,150,70,60,
50,55,45,80,110,140,150,155,150,145,140,110,90,80,70,60,100,130,150,160,170,165,100,50,
45,40,35,50,40,150,170,165,180,160,175,160,40,30,25,35,30,40,160,180,170,165,155,150,
35,30,40,35,80,120,140,135,145,140,138,135,142,140,130,120,100,90,120,140,150,155,145,130,
60,45,300,40,35,45,50,90,110,120,100,130,115,120,80,45,40,50,80,110,130,135,140,150,
145,140,150,155,145,150,160,165,170,160,150,155,150,145,140,120,100,310,315,320,310,305,315,320,
325,330,300,50,40,45,35,40,30,60,130,150,145,150,140,130,60,40,35,30,25,40,200,230,240];
const OBS_DIR_6 = [90,100,115,125,135,140,150,145,40,30,25,35,30,110,130,140,145,150,140,135,40,35,30,40,
45,50,140,155,160,165,160,155,150,60,45,70,55,90,100,215,200,180,160,140,125,60,65,80,
95,100,110,140,150,155,145,150,148,152,145,150,120,150,175,160,130,110,100,120,330,340,30,25,
35,30,20,40,100,120,130,140,125,110,40,35,30,45,40,60,100,120,140,150,160,170,160,325,
330,335,320,330,140,150,160,165,155,160,150,100,80,70,60,75,110,140,160,165,155,150,60,40,
35,45,30,40,35,140,170,180,175,170,185,165,40,20,15,10,20,140,150,170,175,160,145,130,
90,30,50,20,60,110,125,130,128,135,130,138,132,140,135,130,250,260,240,110,120,115,130,100,
60,45,40,50,45,40,35,60,130,150,155,145,150,140,60,55,50,60,70,120,140,150,160,165,
170,160,150,40,35,45,60,120,140,150,155,165,160,170,160,150,140,320,315,325,320,310,330,320,
315,325,300,50,45,40,35,50,45,40,100,140,150,160,155,140,30,20,15,10,5,20,200,220,230];
const OBS_DIR_7 = [60,80,100,115,125,140,150,145,40,35,40,45,35,90,110,125,130,140,135,145,30,25,35,30,
40,35,130,150,160,170,165,175,180,50,45,55,40,60,80,220,205,185,160,140,120,55,50,60,
65,80,100,130,145,150,155,150,145,150,160,140,100,120,150,170,140,120,110,100,330,335,45,50,
40,55,45,60,90,100,110,120,125,140,90,80,70,60,80,100,110,120,125,135,145,150,120,330,
335,325,340,330,150,160,165,155,160,150,140,100,80,75,85,90,110,130,140,145,135,140,60,50,
45,40,50,45,35,140,165,170,175,180,170,165,40,35,30,40,20,140,160,165,170,160,165,150,
40,30,20,35,60,100,120,130,125,135,130,128,135,130,120,110,245,250,240,120,130,135,125,110,
50,40,35,45,40,30,35,60,100,120,130,115,140,125,60,50,45,40,60,110,130,140,145,135,
150,140,120,55,50,60,55,80,130,150,160,165,155,160,150,140,320,315,310,320,315,325,320,310,
300,320,290,45,40,50,35,45,40,60,110,130,140,150,145,130,40,30,25,35,20,30,190,215,225];
const OBS_DIR_8 = [80,110,120,130,125,140,135,145,40,30,25,35,40,100,120,130,135,128,140,130,35,30,25,40,
35,45,170,190,165,160,155,150,160,40,35,60,45,80,90,215,195,175,150,135,120,40,45,55,
65,80,90,130,145,150,155,148,150,145,140,120,160,185,200,175,150,120,100,60,45,40,35,45,
40,50,45,60,80,110,130,150,160,140,70,65,75,60,70,90,110,125,130,135,140,130,320,325,
330,320,315,325,140,150,155,150,145,155,140,90,80,75,70,80,120,140,150,155,150,145,50,40,
30,35,25,40,30,150,165,170,165,175,168,160,30,25,20,15,30,140,150,165,160,150,145,140,
40,20,50,30,60,110,125,130,128,135,130,125,132,130,120,100,220,240,210,100,110,105,120,90,
60,50,45,55,50,40,45,60,120,140,135,145,140,130,90,85,80,90,100,120,135,140,145,140,
135,130,120,345,350,340,355,345,120,130,135,128,130,125,120,110,320,315,325,320,310,315,320,60,
50,45,55,40,50,45,55,50,45,70,120,140,145,135,140,130,30,20,25,15,330,20,160,175,180];
const OBS_DIR_9 = [70,100,115,125,130,120,135,130,30,25,20,40,35,90,110,125,130,120,135,125,30,25,15,30,
35,40,170,160,150,145,140,130,150,40,30,55,45,70,80,200,180,160,145,130,120,30,40,50,
60,75,90,120,135,140,145,150,140,130,320,330,315,325,310,120,130,110,60,50,45,40,30,45,
35,40,50,60,80,100,120,130,140,120,60,50,65,55,70,90,110,120,125,130,140,135,325,330,
335,325,320,330,125,130,140,135,145,140,130,70,60,55,65,75,110,130,140,150,145,140,50,40,
30,35,25,40,30,140,160,165,155,170,160,150,30,20,15,25,20,130,140,150,160,150,145,130,
30,20,40,25,60,120,130,135,125,130,128,135,130,125,120,110,230,250,200,100,110,120,100,80,
60,40,35,45,40,30,45,60,110,130,140,135,145,130,70,60,55,65,90,110,125,130,135,130,
125,110,350,345,355,340,350,345,100,120,130,125,135,130,125,320,325,315,330,320,325,310,315,60,
50,55,45,40,50,45,40,50,55,80,120,130,140,135,130,120,30,20,25,15,320,20,90,140,160];
const OBS_DIR_10 = [110,130,150,140,125,120,130,110,40,30,25,35,40,90,110,120,125,130,120,115,35,30,20,35,
30,40,160,150,140,130,125,120,110,40,45,35,50,60,80,190,170,155,140,125,110,40,35,50,
60,70,90,110,125,130,140,150,145,120,310,330,320,315,325,110,120,100,50,40,35,45,40,35,
30,40,45,55,70,90,110,130,140,120,60,50,45,55,60,80,100,115,120,125,130,120,310,320,
300,315,310,305,120,125,130,120,125,115,110,60,50,45,55,60,100,120,130,125,120,115,50,40,
35,30,40,35,30,150,170,160,150,155,140,130,30,25,20,30,25,120,130,140,135,130,140,125,
30,20,35,25,50,100,110,115,120,110,115,120,110,100,95,90,220,250,230,100,110,120,100,80,
60,50,45,55,50,45,40,60,110,120,130,125,120,110,80,60,50,55,80,100,110,115,120,110,
105,100,350,355,345,350,340,355,100,110,120,125,130,120,110,300,310,320,305,315,320,300,310,320,
305,60,50,45,40,35,30,25,40,80,110,120,115,110,120,110,40,30,20,15,340,350,20,130,145];

// ---- figure ----
const SPD201 = [SPD201_1, SPD201_2, SPD201_3, SPD201_4, SPD201_5, SPD201_6, SPD201_7, SPD201_8, SPD201_9, SPD201_10];
const SPD202 = [SPD202_1, SPD202_2, SPD202_3, SPD202_4, SPD202_5, SPD202_6, SPD202_7, SPD202_8, SPD202_9, SPD202_10];
const DIR201 = [DIR201_1, DIR201_2, DIR201_3, DIR201_4, DIR201_5, DIR201_6, DIR201_7, DIR201_8, DIR201_9, DIR201_10];
const SPIKE202 = [SPIKE202_1, SPIKE202_2, SPIKE202_3, SPIKE202_4, SPIKE202_5, SPIKE202_6, SPIKE202_7, SPIKE202_8, SPIKE202_9, SPIKE202_10];
const OBS_SPD = [OBS_SPD_1, OBS_SPD_2, OBS_SPD_3, OBS_SPD_4, OBS_SPD_5, OBS_SPD_6, OBS_SPD_7, OBS_SPD_8, OBS_SPD_9, OBS_SPD_10];
const OBS_DIR = [OBS_DIR_1, OBS_DIR_2, OBS_DIR_3, OBS_DIR_4, OBS_DIR_5, OBS_DIR_6, OBS_DIR_7, OBS_DIR_8, OBS_DIR_9, OBS_DIR_10];

const FIG_W = 5000, FIG_H = 4000;
const W = 2490, H = 411;            // canvas of one subplot (figure pixels)
const PAD_L = 133, PAD_T = 62;      // room for y axis and title
const PLOT_W = 2303, PLOT_H = 293;
const COL_PLOT_LEFT = [133, 2621];
const ROW_TOP0 = 215, ROW_STEP = 379.2;
const RED = '#ff0000', BLUE = '#0000ff', GREEN = '#2a8f2a';

// the window may be narrower than the figure: scale the whole figure to fit it
const S = Math.min(1, (window.innerWidth || FIG_W) / FIG_W, (window.innerHeight || FIG_H) / FIG_H);
const DPR = Math.max(0.25, S * (window.devicePixelRatio || 1));

Chart.defaults.font.family = "'DejaVu Sans', sans-serif";
Chart.defaults.color = '#000';

const fig = document.getElementById('fig');
fig.style.width = (FIG_W * S) + 'px';
fig.style.height = (FIG_H * S) + 'px';
const sup = document.getElementById('sup');
sup.style.width = (FIG_W * S) + 'px';
sup.style.top = (13 * S) + 'px';
sup.style.fontSize = (35 * S) + 'px';
sup.style.lineHeight = (42 * S) + 'px';

function pairs(a) {
  const out = [];
  for (let i = 0; i + 1 < a.length; i += 2) out.push({x: a[i], y: a[i + 1]});
  return out;
}

function obsSet(vals, scale) {
  return {
    label: LEGEND_LABELS[0],
    data: vals.map((v, i) => ({x: i * OBS_STEP_H, y: v * scale})),
    showLine: false, pointRadius: 3.2, pointBorderWidth: 0,
    pointBackgroundColor: RED, borderColor: RED, backgroundColor: RED, order: 2
  };
}

function lineSet(label, pts, color, width, order, smooth) {
  return {
    label, data: pts, borderColor: color, backgroundColor: color, borderWidth: width,
    pointRadius: 0, fill: false, order, tension: 0,
    cubicInterpolationMode: smooth ? 'monotone' : 'default',
    borderJoinStyle: 'round', borderCapStyle: 'round'
  };
}

// black box round the axes (all four spines)
const framePlugin = {
  id: 'frame',
  afterDraw(chart) {
    const {ctx, chartArea: a} = chart;
    ctx.save();
    ctx.strokeStyle = '#000';
    ctx.lineWidth = 2;
    ctx.strokeRect(a.left, a.top, a.right - a.left, a.bottom - a.top);
    ctx.restore();
  }
};

const legendPlugin = {
  id: 'legendBox',
  afterDatasetsDraw(chart) {
    const {ctx, chartArea: a} = chart;
    const bw = 305, bh = 102;
    const x0 = a.right - 11 - bw, y0 = a.top + 11;
    ctx.save();
    ctx.beginPath();
    if (ctx.roundRect) ctx.roundRect(x0, y0, bw, bh, 6); else ctx.rect(x0, y0, bw, bh);
    ctx.fillStyle = 'rgba(255,255,255,0.8)';
    ctx.fill();
    ctx.strokeStyle = '#cccccc';
    ctx.lineWidth = 2;
    ctx.stroke();
    ctx.fillStyle = RED;
    ctx.beginPath(); ctx.arc(x0 + 31, y0 + 17, 3.2, 0, Math.PI * 2); ctx.fill();
    ctx.lineCap = 'butt';
    ctx.strokeStyle = BLUE; ctx.lineWidth = 4;
    ctx.beginPath(); ctx.moveTo(x0 + 7, y0 + 48); ctx.lineTo(x0 + 55, y0 + 48); ctx.stroke();
    ctx.strokeStyle = GREEN; ctx.lineWidth = 1.8;
    ctx.beginPath(); ctx.moveTo(x0 + 7, y0 + 81); ctx.lineTo(x0 + 55, y0 + 81); ctx.stroke();
    ctx.fillStyle = '#000';
    ctx.font = "22px 'DejaVu Sans'";
    ctx.textBaseline = 'middle';
    ctx.fillText(LEGEND_LABELS[0], x0 + 72, y0 + 17);
    ctx.fillText(LEGEND_LABELS[1], x0 + 72, y0 + 48);
    ctx.fillText(LEGEND_LABELS[2], x0 + 72, y0 + 81);
    ctx.restore();
  }
};

function statsPlugin(lines) {
  return {
    id: 'stats',
    afterDatasetsDraw(chart) {
      const {ctx, chartArea: a} = chart;
      ctx.save();
      ctx.font = "22px 'DejaVu Sans'";
      const x = a.left + 47;
      const w = Math.max(...lines.map(l => ctx.measureText(l).width));
      ctx.fillStyle = 'rgba(255,255,255,0.7)';
      ctx.fillRect(x - 10, a.top + 31, w + 20, 65);
      ctx.fillStyle = '#000';
      ctx.textBaseline = 'middle';
      ctx.fillText(lines[0], x, a.top + 57);
      ctx.fillText(lines[1], x, a.top + 80);
      ctx.restore();
    }
  };
}

function makePanel(col, row, opt) {
  const cv = document.createElement('canvas');
  cv.width = W;
  cv.height = H;
  cv.style.left = ((COL_PLOT_LEFT[col] - PAD_L) * S) + 'px';
  cv.style.top = ((Math.round(ROW_TOP0 + row * ROW_STEP) - PAD_T) * S) + 'px';
  cv.style.width = (W * S) + 'px';
  cv.style.height = (H * S) + 'px';
  fig.appendChild(cv);

  const grid = {color: '#ebebeb', lineWidth: 1.5, tickColor: '#000', tickLength: 10, tickWidth: 2};
  const bottom = row === 9;

  new Chart(cv, {
    type: 'line',
    data: {datasets: opt.datasets},
    options: {
      responsive: false, animation: false, devicePixelRatio: DPR, events: [],
      layout: {padding: {left: 0, top: 0, bottom: 0, right: W - PAD_L - PLOT_W}},
      plugins: {
        legend: {display: false},
        tooltip: {enabled: false},
        title: {
          display: true, text: opt.title, color: '#000',
          font: {size: 28, weight: 'normal', lineHeight: '34px'},
          padding: {top: 18, bottom: 10}
        }
      },
      scales: {
        x: {
          type: 'linear', min: 0, max: 240,
          afterBuildTicks: s => { s.ticks = DAY_TICKS.map(v => ({value: v})); },
          afterFit: s => { s.height = H - PAD_T - PLOT_H; },
          ticks: {
            display: bottom, autoSkip: false, maxRotation: 0, minRotation: 0, padding: 8,
            color: '#000', font: {size: 26},
            callback: v => DATE_LABELS[DAY_TICKS.indexOf(v)]
          },
          grid: grid,
          border: {display: false}
        },
        y: {
          type: 'linear', min: 0, max: opt.yMax,
          afterBuildTicks: s => { s.ticks = opt.yTicks.map(v => ({value: v})); },
          afterFit: s => { s.width = PAD_L; },
          ticks: {padding: 12, color: '#000', font: {size: 26}, callback: opt.fmt},
          grid: grid,
          border: {display: false},
          title: {display: true, text: opt.yLabel, color: '#000', font: {size: 26}, padding: {top: opt.yTitlePad, bottom: 0}}
        }
      }
    },
    plugins: opt.plugins.concat([framePlugin])
  });
}

for (let r = 0; r < 10; r++) {
  // left: current speed
  const sp201 = SPEED_T.map((t, i) => ({x: t, y: SPD201[r][i]}));
  const sp202 = SPEED_T.map((t, i) => ({x: t, y: SPD202[r][i]}));
  makePanel(0, r, {
    title: 'Bin ' + (r + 1) + ' \u2014 depth=' + DEPTHS[r].toFixed(2) + ' m (NAVD)',
    yLabel: 'Speed (m/s)', yMax: 2.0, yTicks: SPEED_TICKS, yTitlePad: 25,
    fmt: v => Number(v).toFixed(1),
    datasets: [
      obsSet(OBS_SPD[r], 0.01),
      lineSet(LEGEND_LABELS[1], sp201, BLUE, 4, 1, true),
      lineSet(LEGEND_LABELS[2], sp202, GREEN, 1.8, 0, true)
    ],
    plugins: r === 0 ? [legendPlugin] : []
  });

  // right: current direction
  const d201 = pairs(DIR201[r]);
  const d202 = pairs(DIR201[r]).concat(pairs(SPIKE202[r])).sort((p, q) => p.x - q.x);
  makePanel(1, r, {
    title: 'Bin ' + (r + 1) + ' \u2014 Direction',
    yLabel: 'Direction (deg)', yMax: 360, yTicks: DIR_TICKS, yTitlePad: 17,
    fmt: v => String(v),
    datasets: [
      obsSet(OBS_DIR[r], 1),
      lineSet(LEGEND_LABELS[1], d201, BLUE, 4, 1, false),
      lineSet(LEGEND_LABELS[2], d202, GREEN, 1.8, 0, false)
    ],
    plugins: (r === 0 ? [legendPlugin] : []).concat([statsPlugin([STATS_RUN201[r], STATS_RUN202[r]])])
  });
}
</script>
</body>
</html>
